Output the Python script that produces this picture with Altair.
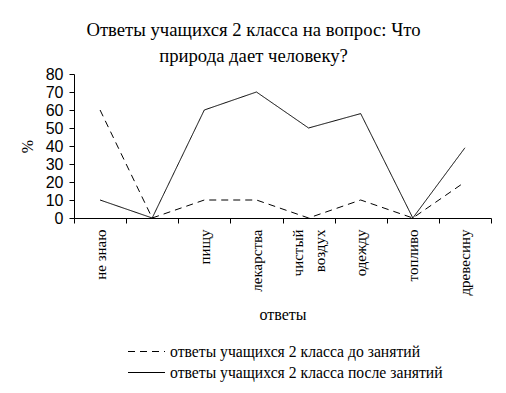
import altair as alt
import pandas as pd

categories = ["не знаю", " ", "пищу", "лекарства", "чистый воздух", "одежду", "топливо", "древесину"]
before = [60, 0, 10, 10, 0, 10, 0, 20]
after = [10, 0, 60, 70, 50, 58, 0, 39]
series = ["ответы учащихся 2 класса до занятий", "ответы учащихся 2 класса после занятий"]

rows = []
for s, vals in zip(series, [before, after]):
    for c, v in zip(categories, vals):
        rows.append({"cat": c, "val": v, "series": s})
df = pd.DataFrame(rows)

serif = "Liberation Serif"
sans = "Liberation Sans"

two_line = "чистый воздух"

chart = alt.Chart(df).mark_line(strokeWidth=1, color="black").encode(
    x=alt.X("cat:N", sort=categories,
            scale=alt.Scale(type="band", paddingInner=0, paddingOuter=0),
            axis=alt.Axis(title="ответы", labelAngle=270, tickBand="extent",
                          labelExpr=f"datum.label == '{two_line}' ? ['чистый', 'воздух'] : datum.label",
                          labelOffset={"condition": {"test": f"datum.value == '{two_line}'", "value": -11},
                                       "value": 0},
                          labelFont=serif, labelFontSize=15, labelColor="black",
                          labelAlign="right", labelBaseline="middle",
                          labelPadding=6, tickSize=5, tickColor="black", domainColor="black",
                          titleFont=serif, titleFontSize=16, titleFontWeight="normal",
                          titleColor="black", titlePadding=11, labelLineHeight=22,
                          grid=False)),
    y=alt.Y("val:Q", scale=alt.Scale(domain=[0, 80], nice=False),
            axis=alt.Axis(title="%", values=list(range(0, 81, 10)), grid=False,
                          labelFont=sans, labelFontSize=16, labelColor="black",
                          labelPadding=6, tickSize=5, tickColor="black", domainColor="black",
                          titleFont=serif, titleFontSize=16, titleFontWeight="normal",
                          titleColor="black", titlePadding=10)),
    strokeDash=alt.StrokeDash("series:N", sort=series,
                              scale=alt.Scale(domain=series, range=[[7, 5], [1, 0]]),
                              legend=alt.Legend(title=None, orient="none", legendX=62, legendY=267,
                                                direction="vertical", symbolType="M-1.85,0H1.85",
                                                symbolSize=400, symbolStrokeWidth=1,
                                                symbolStrokeColor="black", symbolFillColor="transparent",
                                                labelFont=serif, labelFontSize=15.7, labelColor="black",
                                                labelLimit=500, rowPadding=2, labelOffset=13)),
).properties(
    width=417, height=144,
    title=alt.TitleParams(["Ответы учащихся 2 класса на вопрос: Что", "природа дает человеку?"],
                          font=serif, fontSize=18.7, fontWeight="normal", color="black",
                          anchor="middle", dx=-29, offset=0, lineHeight=26),
    autosize=alt.AutoSizeParams(type="none"),
    padding={"left": 66, "top": 66, "right": 7, "bottom": 170},
).configure_view(stroke=None)

chart.save("out.html", embed_options={"renderer": "svg", "actions": False})
